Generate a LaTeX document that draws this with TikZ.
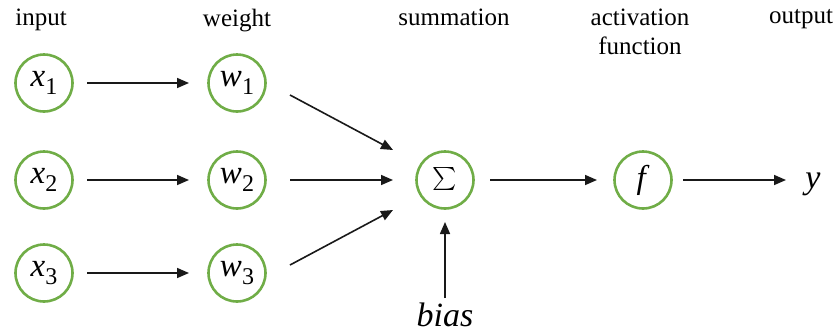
\documentclass[tikz,border=0pt]{standalone}
\usepackage{fontspec}
\setmainfont{Liberation Serif}
\usetikzlibrary{arrows.meta}
\definecolor{nodegreen}{RGB}{112,173,71}
\newcommand{\var}[2]{\textit{#1}\raisebox{-0.25em}{\fontsize{24}{24}\selectfont #2}}
\begin{document}
\begin{tikzpicture}[x=1pt,y=-1pt,
  unit/.style={circle,draw=nodegreen,line width=2.6pt,minimum size=57pt,inner sep=0pt,
    font=\fontsize{33}{33}\selectfont},
  head/.style={font=\fontsize{25}{29}\selectfont,align=center,anchor=north,inner sep=0pt},
  link/.style={-{Triangle[length=12pt,width=10pt]},line width=1.6pt,black!90},
  free/.style={font=\fontsize{34}{34}\selectfont\itshape,anchor=base,inner sep=0pt}]
\useasboundingbox (0,0) rectangle (838,333);

% column headings
\node[head] (hin)  at (41,9)  {input};
\node[head] (hw)   at (237,9) {weight};
\node[head] (hsum) at (454,9) {summation};
\node[head] (hact) at (640,9) {activation\\function};
\node[head] (hout) at (801,9) {output};

% inputs and weights
\node[unit] (x1) at (44,83)  {\var{x}{1}};
\node[unit] (x2) at (44,180) {\var{x}{2}};
\node[unit] (x3) at (44,273) {\var{x}{3}};
\node[unit] (w1) at (237,83)  {\var{w}{1}};
\node[unit] (w2) at (237,180) {\var{w}{2}};
\node[unit] (w3) at (237,273) {\var{w}{3}};

% summation, activation, output
\node[unit] (sum) at (445,180) {\scalebox{2.3}{$\sum$}};
\node[unit] (f)   at (643,180) {\textit{f}};
\node[free] (y)   at (813,188) {y};
\node[free] (bias) at (445,326) {bias};

\draw[link] (87,83)  -- (189,83);
\draw[link] (87,180) -- (189,180);
\draw[link] (87,273) -- (189,273);
\draw[link] (290,95)  -- (393,150);
\draw[link] (290,180) -- (393,180);
\draw[link] (290,265) -- (393,210);
\draw[link] (490,180) -- (597,180);
\draw[link] (683,180) -- (786,180);
\draw[link] (445,298) -- (445,222);
\end{tikzpicture}
\end{document}
